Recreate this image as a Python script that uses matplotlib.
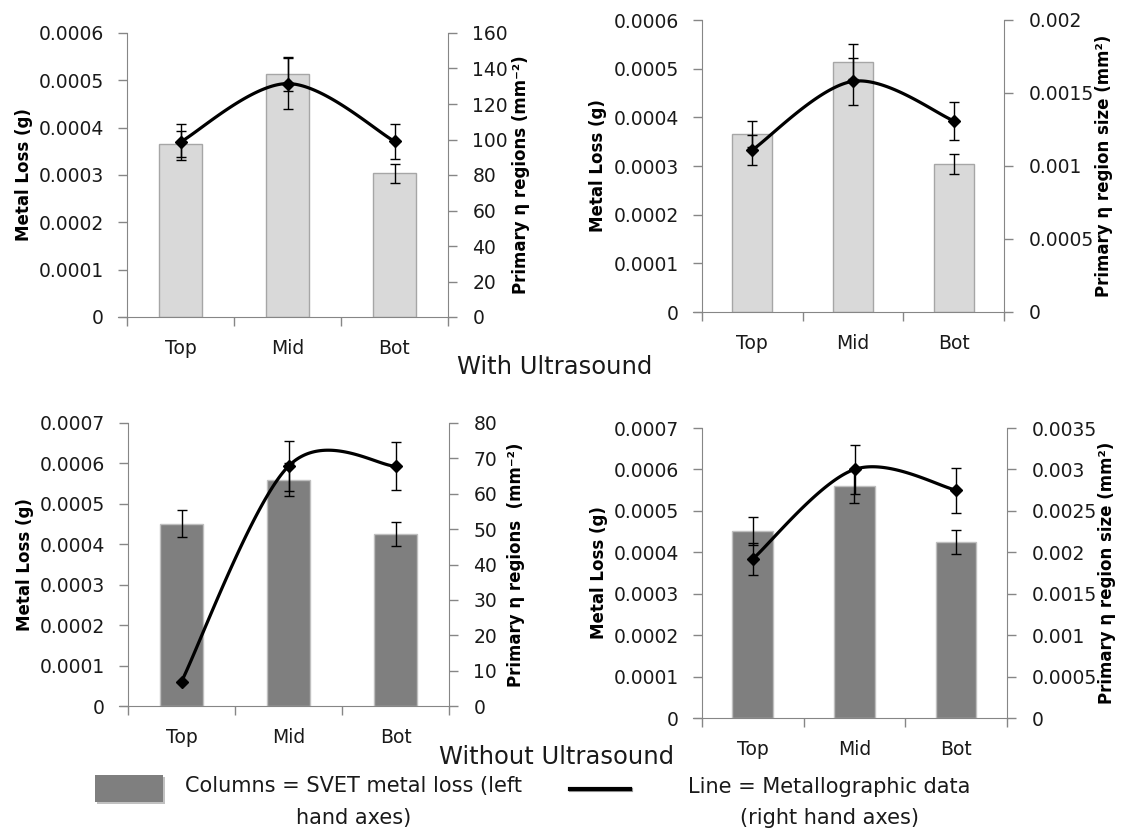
import numpy as np
import matplotlib.pyplot as plt
import matplotlib.patheffects as pe
from matplotlib.patches import Rectangle
from matplotlib.lines import Line2D

cats = ['Top', 'Mid', 'Bot']

# SVET metal loss (g), columns, left axes
us_loss = [0.000366, 0.000514, 0.000304]
us_loss_err = [0.000027, 0.000036, 0.00002]
no_loss = [0.000451, 0.00056, 0.000425]
no_loss_err = [0.000033, 0.00004, 0.00003]

# metallographic data, line, right axes
us_count = [98.6, 131.5, 99.0]
us_count_err = [10.0, 14.5, 10.0]
us_size = [0.00111, 0.00158, 0.00131]
us_size_err = [0.0001, 0.00016, 0.00013]
no_count = [6.9, 67.8, 67.8]
no_count_err = [0.0, 7.0, 6.7]
no_size = [0.00192, 0.003, 0.00275]
no_size_err = [0.00019, 0.0003, 0.00027]

W, H = 1121, 840
TXT = '#1a1a1a'
SPINE = '#868686'
plt.rcParams['font.family'] = ['DejaVu Sans']


def smooth(x, y, n=60):
    # excel-like smoothed line (catmull-rom as cubic bezier)
    x = np.asarray(x, float)
    y = np.asarray(y, float)
    px = np.r_[x[0], x, x[-1]]
    py = np.r_[y[0], y, y[-1]]
    t = np.linspace(0, 1, n)[:, None]
    out = []
    for i in range(1, len(x)):
        p0 = np.array([px[i - 1], py[i - 1]])
        p1 = np.array([px[i], py[i]])
        p2 = np.array([px[i + 1], py[i + 1]])
        p3 = np.array([px[i + 2], py[i + 2]])
        c1 = p1 + (p2 - p0) / 6
        c2 = p2 - (p3 - p1) / 6
        b = (1 - t) ** 3 * p1 + 3 * (1 - t) ** 2 * t * c1 + 3 * (1 - t) * t ** 2 * c2 + t ** 3 * p2
        out.append(b)
    b = np.vstack(out)
    return b[:, 0], b[:, 1]


def panel(px, loss, loss_err, line, line_err, lmax, lstep, rmax, rstep,
          bar_c, bar_e, rlabel, lcoord, rcoord):
    x0, y0, x1, y1 = px
    ax = fig.add_axes([x0 / W, 1 - y1 / H, (x1 - x0) / W, (y1 - y0) / H])
    ax2 = ax.twinx()
    x = np.arange(len(cats))

    ax.bar(x, loss, width=0.4, color=bar_c, edgecolor=bar_e, linewidth=1,
           yerr=loss_err, error_kw=dict(ecolor='black', elinewidth=1, capsize=3.5, capthick=1), zorder=2)
    ax2.errorbar(x, line, yerr=line_err, fmt='none', ecolor='black', elinewidth=1, capsize=3.5, capthick=1)
    sx, sy = smooth(x, line)
    ax2.plot(sx, sy, color='black', lw=2.3, solid_capstyle='round')
    ax2.plot(x, line, 'D', color='black', ms=6.5)

    ax.set_xlim(-0.5, 2.5)
    lt = np.arange(0, lmax + lstep / 2, lstep)
    ax.set_ylim(0, lmax)
    ax.set_yticks(lt)
    ax.set_yticklabels(['%g' % round(v, 6) for v in lt])
    rt = np.arange(0, rmax + rstep / 2, rstep)
    ax2.set_ylim(0, rmax)
    ax2.set_yticks(rt)
    ax2.set_yticklabels(['%g' % round(v, 6) for v in rt])

    ax.set_xticks(x)
    ax.set_xticklabels(cats)
    ax.set_xticks([-0.5, 0.5, 1.5, 2.5], minor=True)
    ax.tick_params(axis='x', which='major', length=0, pad=16, labelsize=13.5, labelcolor=TXT)
    ax.tick_params(axis='x', which='minor', length=6.5, width=1, color=SPINE, direction='out')
    ax.tick_params(axis='y', length=6.5, width=1, color=SPINE, pad=10, labelsize=13.5, labelcolor=TXT)
    ax2.tick_params(axis='y', length=6.5, width=1, color=SPINE, pad=11, labelsize=13.5, labelcolor=TXT)

    for s in ['top', 'right']:
        ax.spines[s].set_visible(False)
    for s in ['top', 'left', 'bottom']:
        ax2.spines[s].set_visible(False)
    ax.spines['left'].set_color(SPINE)
    ax.spines['bottom'].set_color(SPINE)
    # category axis runs out to the end of the left tick, as in the original
    ax.spines['bottom'].set_bounds(-0.5 - 3 * 9 / (x1 - x0), 2.5)
    ax2.spines['right'].set_color(SPINE)

    ax.set_ylabel('Metal Loss (g)', fontsize=12, fontweight='bold', color='black')
    ax.yaxis.set_label_coords(lcoord, 0.5)
    ax2.set_ylabel(rlabel, fontsize=12, fontweight='bold', color='black')
    ax2.yaxis.set_label_coords(rcoord, 0.5)
    return ax, ax2


fig = plt.figure(figsize=(W / 100, H / 100), dpi=100)

panel((127, 33, 448, 317), us_loss, us_loss_err, us_count, us_count_err,
      0.0006, 0.0001, 160, 20, '#d9d9d9', '#a6a6a6',
      'Primary η regions (mm⁻²)', -0.293, 1.199)
panel((702, 20, 1004, 312), us_loss, us_loss_err, us_size, us_size_err,
      0.0006, 0.0001, 0.002, 0.0005, '#d9d9d9', '#a6a6a6',
      'Primary η region size (mm²)', -0.315, 1.30)
panel((128, 423, 449, 706), no_loss, no_loss_err, no_count, no_count_err,
      0.0007, 0.0001, 80, 10, '#7f7f7f', '#bfbfbf',
      'Primary η regions  (mm⁻²)', -0.293, 1.181)
panel((702, 428, 1007, 718), no_loss, no_loss_err, no_size, no_size_err,
      0.0007, 0.0001, 0.0035, 0.0005, '#7f7f7f', '#bfbfbf',
      'Primary η region size (mm²)', -0.308, 1.297)

fig.text(555 / W, 1 - 367 / H, 'With Ultrasound', ha='center', va='center', fontsize=17.5, color=TXT)
fig.text(557 / W, 1 - 757 / H, 'Without Ultrasound', ha='center', va='center', fontsize=17.5, color=TXT)

# legend
rect = Rectangle((95 / W, 1 - 802 / H), 68 / W, 27 / H, transform=fig.transFigure,
                 facecolor='#7f7f7f', edgecolor='none',
                 path_effects=[pe.withSimplePatchShadow(offset=(1.5, -1.5), shadow_rgbFace='#999999', alpha=0.6), pe.Normal()])
fig.add_artist(rect)
fig.add_artist(Line2D([570 / W, 630 / W], [1 - 789 / H, 1 - 789 / H], transform=fig.transFigure,
                      color='black', lw=3,
                      path_effects=[pe.SimpleLineShadow(offset=(1, -1), alpha=0.4), pe.Normal()]))
fig.text(185 / W, 1 - 786 / H, 'Columns = SVET metal loss (left', ha='left', va='center', fontsize=15, color=TXT)
fig.text(354 / W, 1 - 818 / H, 'hand axes)', ha='center', va='center', fontsize=15, color=TXT)
fig.text(829 / W, 1 - 787 / H, 'Line = Metallographic data', ha='center', va='center', fontsize=15, color=TXT)
fig.text(830 / W, 1 - 818 / H, '(right hand axes)', ha='center', va='center', fontsize=15, color=TXT)

fig.savefig('out.png', dpi=100)
